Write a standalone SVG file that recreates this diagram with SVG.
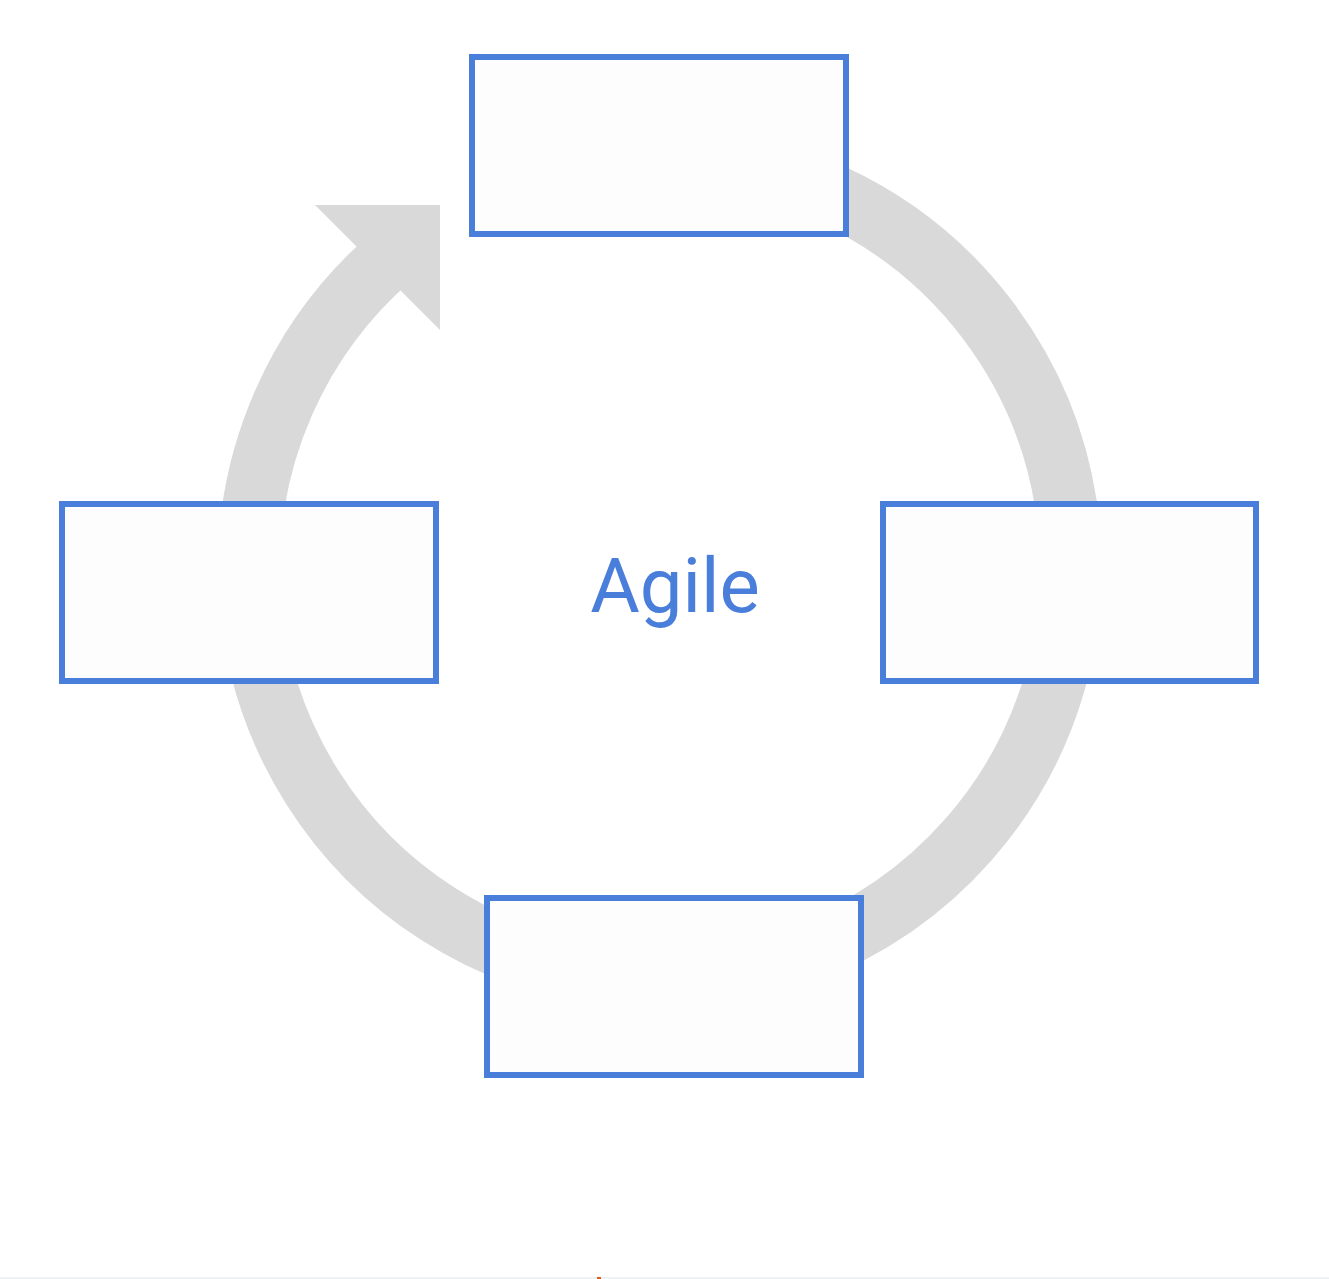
<svg xmlns="http://www.w3.org/2000/svg" width="1329" height="1279" viewBox="0 0 1329 1279">
  <style>
    .ring { fill: none; stroke: #d9d9d9; stroke-width: 62; }
    .head { fill: #d9d9d9; }
    .box { fill: #fdfdfd; stroke: #4a7edb; stroke-width: 6; }
    .label { font-family: Roboto, "Open Sans", "Liberation Sans", sans-serif; font-size: 76px; fill: #4a7edb; text-anchor: middle; }
  </style>
  <rect x="0" y="0" width="1329" height="1279" fill="#ffffff"/>
  <g id="connectors">
    <path class="ring" d="M 660 157 A 411 411 0 1 1 390.3 257.8"/>
    <polygon class="head" points="315,205 440,205 440,330"/>
  </g>
  <g id="node-top">
    <rect class="box" x="472" y="57" width="374" height="177"/>
  </g>
  <g id="node-left">
    <rect class="box" x="62" y="504" width="374" height="177"/>
  </g>
  <g id="node-right">
    <rect class="box" x="883" y="504" width="373" height="177"/>
  </g>
  <g id="node-bottom">
    <rect class="box" x="487" y="898" width="374" height="177"/>
  </g>
  <g id="center-label">
    <text class="label" x="675" y="612">Agile</text>
  </g>
  <rect x="0" y="1277" width="1329" height="2" fill="#eef2f5"/>
  <rect x="597" y="1277" width="4" height="2" fill="#e0600a"/>
</svg>
